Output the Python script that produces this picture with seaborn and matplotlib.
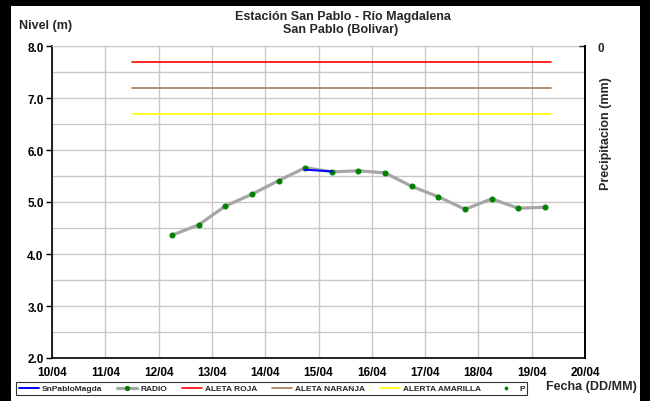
import pandas as pd
import matplotlib.pyplot as plt
import matplotlib.dates as mdates
from matplotlib.patches import Rectangle
from matplotlib.ticker import MultipleLocator, FixedLocator
import seaborn as sns

# Series (every 12 h from 12/04 06:00)
radio_times = ["2012-04-12 06:00", "2012-04-12 18:00", "2012-04-13 06:00", "2012-04-13 18:00",
               "2012-04-14 06:00", "2012-04-14 18:00", "2012-04-15 06:00", "2012-04-15 18:00",
               "2012-04-16 06:00", "2012-04-16 18:00", "2012-04-17 06:00", "2012-04-17 18:00",
               "2012-04-18 06:00", "2012-04-18 18:00", "2012-04-19 06:00"]
radio_levels = [4.36, 4.56, 4.92, 5.15, 5.41, 5.66, 5.58, 5.60, 5.56, 5.30, 5.10, 4.86, 5.06, 4.88, 4.90]

sensor_times = ["2012-04-14 18:00", "2012-04-15 06:00"]
sensor_levels = [5.62, 5.59]

alert_times = ["2012-04-11 12:00", "2012-04-19 08:30"]
alert_names = ["ALETA ROJA", "ALETA NARANJA", "ALERTA AMARILLA"]
alert_levels = [7.7, 7.2, 6.7]
alert_colors = ["#FF0000", "#A87C58", "#FFFF00"]

x_ticks = ["2012-04-10", "2012-04-11", "2012-04-12", "2012-04-13", "2012-04-14", "2012-04-15",
           "2012-04-16", "2012-04-17", "2012-04-18", "2012-04-19", "2012-04-20"]
x_labels = ["10/04", "11/04", "12/04", "13/04", "14/04", "15/04", "16/04", "17/04", "18/04", "19/04", "20/04"]

sns.set_style("white")
plt.rcParams["font.family"] = ["Liberation Sans", "DejaVu Sans"]
plt.rcParams["font.weight"] = "bold"

radio = pd.DataFrame({"fecha": pd.to_datetime(radio_times), "nivel": radio_levels})
sensor = pd.DataFrame({"fecha": pd.to_datetime(sensor_times), "nivel": sensor_levels})

fig = plt.figure(figsize=(6.5, 4.02), dpi=100)
fig.patch.set_facecolor("black")
fig.add_artist(Rectangle((11 / 650, 0), 629 / 650, 395 / 402, transform=fig.transFigure,
                         facecolor="white", edgecolor="none", zorder=-1))

ax = fig.add_axes([52 / 650, 43 / 402, 533 / 650, 312 / 402])
ax.set_facecolor("white")

# alert levels
for name, lvl, col in zip(alert_names, alert_levels, alert_colors):
    df = pd.DataFrame({"fecha": pd.to_datetime(alert_times), "nivel": [lvl, lvl]})
    sns.lineplot(data=df, x="fecha", y="nivel", ax=ax, color=col, lw=1.2, label=name, zorder=3)

sns.lineplot(data=radio, x="fecha", y="nivel", ax=ax, color="#A6A6A6", lw=2.3,
             marker="o", markersize=3.6, markerfacecolor="#008000", markeredgecolor="#008000",
             label="RADIO", zorder=4)
sns.lineplot(data=sensor, x="fecha", y="nivel", ax=ax, color="#0000FF", lw=1.4,
             label="SnPabloMagda", zorder=5)
ax.get_legend().remove()

ax.set_ylim(2.0, 8.0)
ax.set_xlim(pd.Timestamp(x_ticks[0]), pd.Timestamp(x_ticks[-1]))
ax.yaxis.set_major_locator(MultipleLocator(1.0))
ax.yaxis.set_minor_locator(MultipleLocator(0.5))
ax.yaxis.set_major_formatter(plt.FormatStrFormatter("%.1f"))
ax.xaxis.set_major_locator(FixedLocator(mdates.date2num(pd.to_datetime(x_ticks))))
ax.set_xticklabels(x_labels)
ax.grid(True, which="both", axis="y", color="#C8C8C8", lw=1)
ax.grid(True, which="major", axis="x", color="#C8C8C8", lw=1)
ax.tick_params(axis="both", which="major", direction="out", length=4, width=1,
               labelsize=8.5, pad=2, colors="black")
ax.tick_params(axis="y", which="minor", length=0)
for lab in ax.get_xticklabels() + ax.get_yticklabels():
    lab.set_fontweight("bold")
ax.set_xlabel("")
ax.set_ylabel("")
for side in ["left", "bottom", "right"]:
    ax.spines[side].set_color("black")
    ax.spines[side].set_linewidth(1.2)
ax.spines["top"].set_color("#C8C8C8")

# precipitation axis (empty, inverted)
ax2 = ax.twinx()
ax2.set_ylim(10, 0)
ax2.set_yticks([0])
ax2.tick_params(axis="y", direction="in", length=4, width=1, labelsize=8.5, pad=9)
for lab in ax2.get_yticklabels():
    lab.set_fontweight("bold")
for side in ["left", "bottom", "top"]:
    ax2.spines[side].set_visible(False)
ax2.spines["right"].set_color("black")
ax2.spines["right"].set_linewidth(1.2)

# P legend handle
ax.scatter([], [], s=3, color="#008000", label="P")

fig.text(343 / 650, 1 - 17 / 402, "Estación San Pablo - Río Magdalena", ha="center", va="center",
         fontsize=9, fontweight="bold")
fig.text(341 / 650, 1 - 30 / 402, "San Pablo (Bolivar)", ha="center", va="center",
         fontsize=9, fontweight="bold")
fig.text(19 / 650, 1 - 26 / 402, "Nivel (m)", ha="left", va="center", fontsize=9, fontweight="bold")
fig.text(606 / 650, 1 - 134 / 402, "Precipitacion (mm)", ha="center", va="center", rotation=90,
         fontsize=9, fontweight="bold")
fig.text(591 / 650, 1 - 387 / 402, "Fecha (DD/MM)", ha="center", va="center",
         fontsize=9, fontweight="bold")

handles, labels = ax.get_legend_handles_labels()
order = ["SnPabloMagda", "RADIO", "ALETA ROJA", "ALETA NARANJA", "ALERTA AMARILLA", "P"]
hmap = dict(zip(labels, handles))
leg = fig.legend([hmap[k] for k in order], order, ncol=6, loc="lower left",
                 bbox_to_anchor=(16 / 650, 6 / 402, 511 / 650, 16 / 402), mode="expand",
                 borderaxespad=0, fontsize=6, frameon=True, fancybox=False,
                 handlelength=2.4, handletextpad=0.4, borderpad=0.3, columnspacing=0.8)
leg.get_frame().set_edgecolor("black")
leg.get_frame().set_linewidth(0.8)
for t in leg.get_texts():
    t.set_fontweight("bold")
for h in leg.legend_handles:
    if hasattr(h, "set_markersize"):
        h.set_markersize(3)

plt.savefig("out.png", dpi=100, facecolor=fig.get_facecolor())
